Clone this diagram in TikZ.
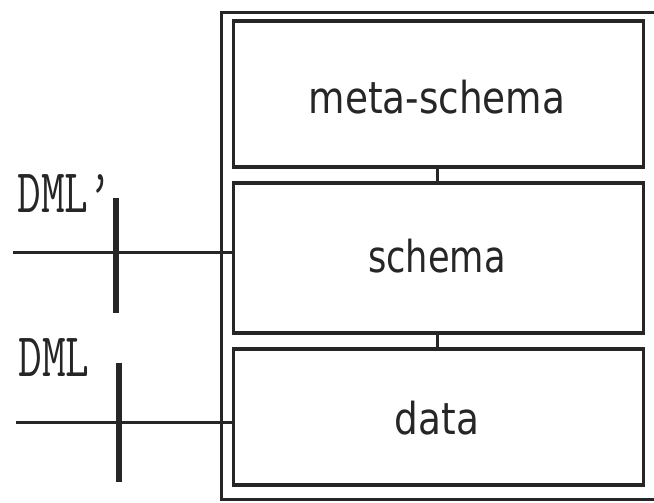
\documentclass[tikz,border=0pt]{standalone}
\usepackage{fontspec}
\setmainfont{DejaVu Sans}
\begin{document}
\begin{tikzpicture}[x=1pt,y=-1pt,
  layer/.style={draw=black!85, line width=3.5pt, minimum width=410pt, inner sep=0pt},
  lbl/.style={font=\fontsize{44}{44}\selectfont, text=black!85},
  wire/.style={draw=black!85, line width=3pt},
  tick/.style={draw=black!85, line width=6pt},
  dml/.style={font=\fontsize{46}{46}\ttfamily, text=black!85}]
\useasboundingbox (0,0) rectangle (654,503);
% outer frame (right side beyond picture)
\draw[draw=black!85, line width=3pt] (660,13) -- (221,13) -- (221,499) -- (660,499);
% layers
\node[layer, minimum height=146pt] (meta) at (438.5,94) {};
\node[layer, minimum height=150pt] (schema) at (438.5,258) {};
\node[layer, minimum height=136pt] (data) at (438.5,417) {};
\node[lbl] at (437,97) {\scalebox{0.85}[1]{meta-schema}};
\node[lbl] at (437,256) {\scalebox{0.8}[1]{schema}};
\node[lbl] at (437,418) {\scalebox{0.85}[1]{data}};
% links between layers
\coordinate (c1) at (437,167);
\coordinate (c2) at (437,333);
\draw[wire] (meta.south -| c1) -- (schema.north -| c1);
\draw[wire] (schema.south -| c2) -- (data.north -| c2);
% DML' interface
\coordinate (s1) at (13,252);
\draw[wire] (s1) -- (s1 -| schema.west);
\coordinate (t1a) at (116,198);
\coordinate (t1b) at (116,313);
\draw[tick] (t1a) -- (t1b);
\node[dml, anchor=base west] (lab1) at (14,212) {\scalebox{1}[1.35]{DML’}};
% DML interface
\coordinate (s2) at (16,422);
\draw[wire] (s2) -- (s2 -| data.west);
\coordinate (t2a) at (119,363);
\coordinate (t2b) at (119,482);
\draw[tick] (t2a) -- (t2b);
\node[dml, anchor=base west] (lab2) at (15,376) {\scalebox{1}[1.35]{DML}};
\end{tikzpicture}
\end{document}
